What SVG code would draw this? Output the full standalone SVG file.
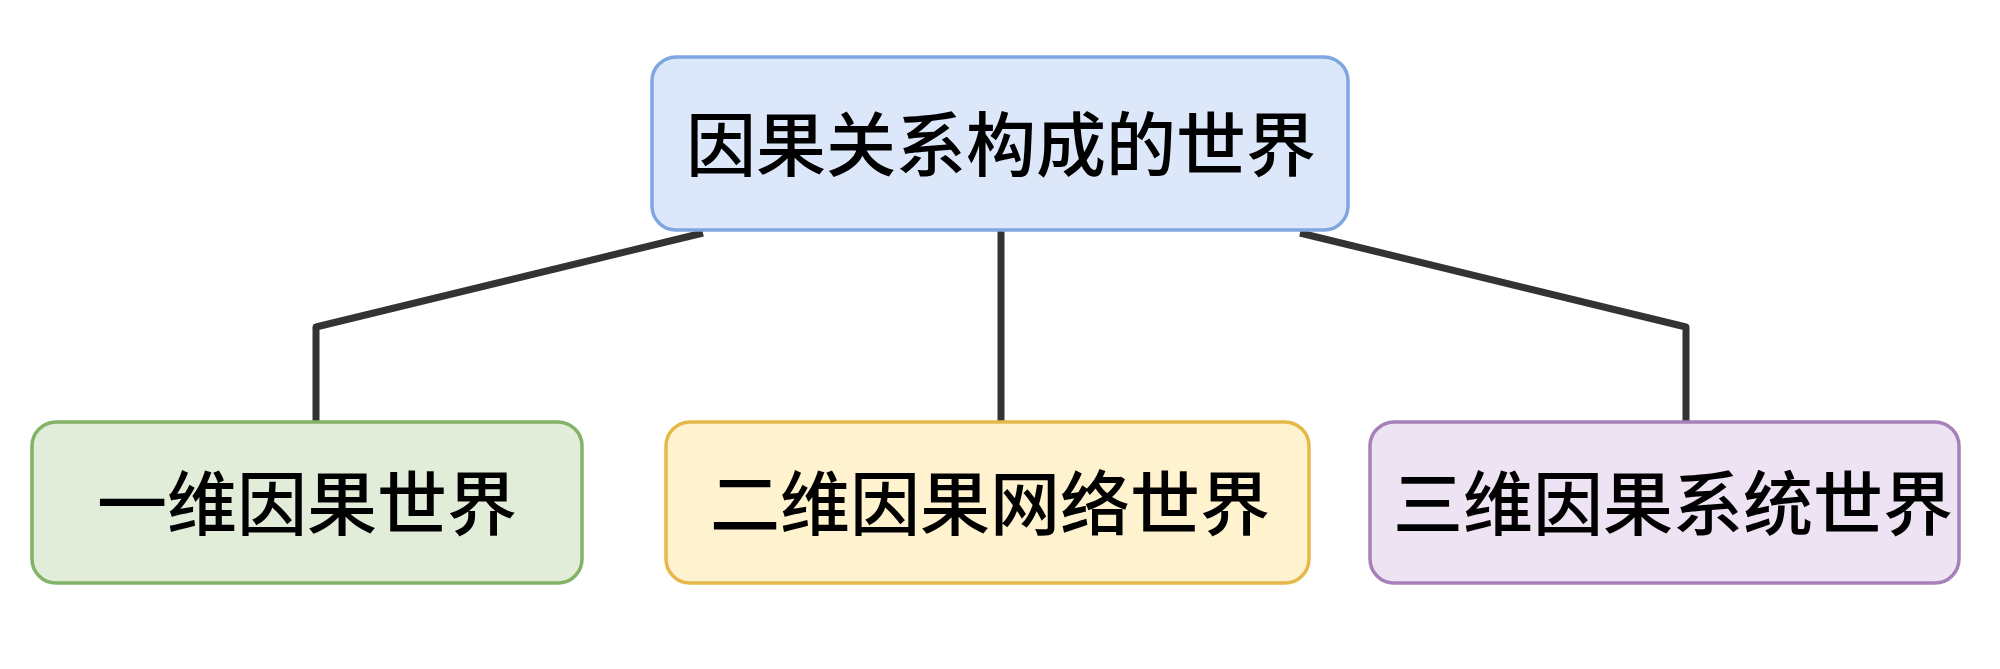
<svg xmlns="http://www.w3.org/2000/svg" width="2000" height="669" viewBox="0 0 2000 669">
<style>
.box{stroke-width:3.5}
.lbl{font-family:"Noto Sans CJK SC","Noto Sans",sans-serif;font-size:70px;font-weight:500;fill:#000;text-anchor:middle}
.edge{fill:none;stroke:#333;stroke-width:7;stroke-linejoin:round;stroke-linecap:butt}
</style>
<rect width="2000" height="669" fill="#ffffff"/>
<g id="connectors">
<path class="edge" d="M703,233 L316,327 L316,422"/>
<path class="edge" d="M1001,230 L1001,422"/>
<path class="edge" d="M1300,233 L1686,327 L1686,422"/>
</g>
<g id="root">
<rect class="box" x="652" y="57" width="696" height="173" rx="24" fill="#dce8fa" stroke="#7ea6e0"/>
<text class="lbl" x="1001" y="171">因果关系构成的世界</text>
</g>
<g id="node1">
<rect class="box" x="32" y="422" width="550" height="161" rx="24" fill="#e1edd9" stroke="#82b366"/>
<text class="lbl" x="307" y="530">一维因果世界</text>
</g>
<g id="node2">
<rect class="box" x="666" y="422" width="643" height="161" rx="24" fill="#fff2cf" stroke="#e6b84a"/>
<text class="lbl" x="990" y="530">二维因果网络世界</text>
</g>
<g id="node3">
<rect class="box" x="1370" y="422" width="589" height="161" rx="24" fill="#eee3f2" stroke="#a680b8"/>
<text class="lbl" x="1673" y="530">三维因果系统世界</text>
</g>
</svg>
